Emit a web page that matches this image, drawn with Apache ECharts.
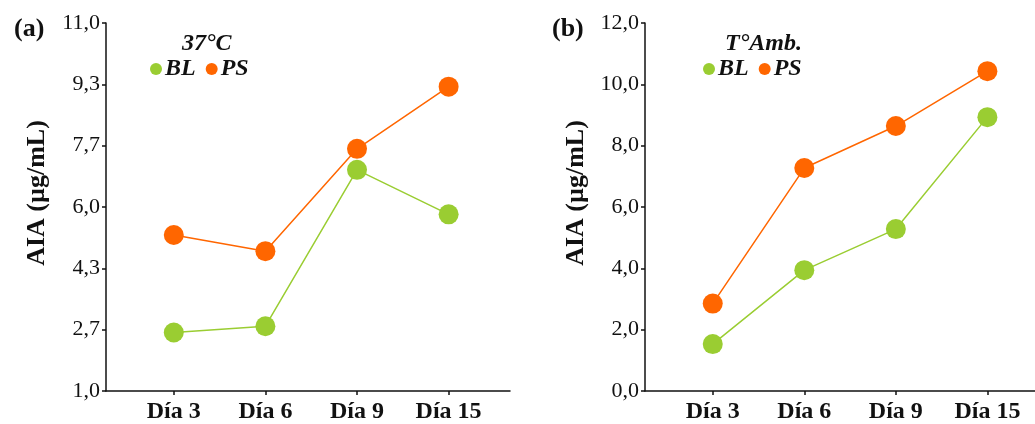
<!DOCTYPE html>
<html>
<head>
<meta charset="utf-8">
<script src="https://cdn.jsdelivr.net/npm/echarts@6/dist/echarts.min.js"></script>
<style>
  html, body { margin: 0; padding: 0; background: #fff; }
  #main { width: 1035px; height: 424px; }
</style>
</head>
<body>
<div id="main"></div>
<script>
// datos
var dias = ['Día 3', 'Día 6', 'Día 9', 'Día 15'];
var bl37 = [2.59, 2.76, 7.01, 5.80];
var ps37 = [5.24, 4.80, 7.58, 9.27];
var blAmb = [1.53, 3.94, 5.28, 8.93];
var psAmb = [2.85, 7.27, 8.64, 10.43];
var ticks37 = ['1,0', '2,7', '4,3', '6,0', '7,7', '9,3', '11,0'];

var verde = '#9acd32';
var naranja = '#ff6600';
var serif = 'Liberation Serif';

var myChart = echarts.init(document.getElementById('main'));

function pares(arr) {
  return arr.map(function (v, i) { return [i, v]; });
}
var paso37 = 10 / (ticks37.length - 1);
var valores37 = ticks37.map(function (t, i) { return 1 + i * paso37; });

function ejeX(grid, max) {
  return {
    type: 'value', gridIndex: grid, min: -0.74, max: max,
    splitLine: { show: false },
    axisLine: { show: true, onZero: false, lineStyle: { color: '#111', width: 1.5 } },
    axisTick: { show: true, length: 4, customValues: [0, 1, 2, 3], lineStyle: { color: '#111', width: 1.5 } },
    axisLabel: {
      customValues: [0, 1, 2, 3], margin: 9,
      fontFamily: serif, fontWeight: 'bold', fontSize: 24, color: '#111',
      formatter: function (v) { return dias[Math.round(v)]; }
    }
  };
}

function ejeY(grid, extra) {
  var eje = {
    type: 'value', gridIndex: grid,
    name: 'AIA (µg/mL)', nameLocation: 'middle', nameGap: 56,
    nameTextStyle: { fontFamily: serif, fontWeight: 'bold', fontSize: 26, color: '#111', padding: [0, 0, 0, 28] },
    splitLine: { show: false },
    axisLine: { show: true, onZero: false, lineStyle: { color: '#111', width: 1.5 } },
    axisTick: { show: true, length: 4, lineStyle: { color: '#111', width: 1.5 } },
    axisLabel: { margin: 6, fontFamily: serif, fontSize: 22, color: '#111' }
  };
  return Object.assign(eje, extra);
}

function serie(nombre, datos, color, idx) {
  return {
    name: nombre, type: 'line', xAxisIndex: idx, yAxisIndex: idx,
    data: pares(datos), symbol: 'circle', symbolSize: 20,
    itemStyle: { color: color },
    lineStyle: { color: color, width: 1.5 },
    emphasis: { disabled: true }
  };
}

var leyendaTexto = { fontFamily: serif, fontWeight: 'bold', fontStyle: 'italic', fontSize: 24, color: '#111' };

option = {
  animation: false,
  title: [
    { text: '(a)', left: 9, top: 11, textStyle: { fontFamily: serif, fontWeight: 'bold', fontSize: 26, color: '#111' } },
    { text: '(b)', left: 547, top: 11, textStyle: { fontFamily: serif, fontWeight: 'bold', fontSize: 26, color: '#111' } },
    { text: '37°C', left: 177, top: 27, textStyle: leyendaTexto },
    { text: 'T°Amb.', left: 720, top: 27, textStyle: leyendaTexto }
  ],
  legend: [
    { data: ['BL', 'PS'], left: 145, top: 52, icon: 'circle', itemWidth: 12, itemHeight: 12, itemGap: 10,
      textStyle: Object.assign({ padding: [0, 0, 0, -2] }, leyendaTexto), selectedMode: false },
    { data: ['BL ', 'PS '], left: 698, top: 52, icon: 'circle', itemWidth: 12, itemHeight: 12, itemGap: 10,
      textStyle: Object.assign({ padding: [0, 0, 0, -2] }, leyendaTexto), selectedMode: false,
      formatter: function (n) { return n.trim(); } }
  ],
  grid: [
    { left: 106, top: 23, width: 404, height: 368 },
    { left: 645, top: 23, width: 390, height: 368 }
  ],
  xAxis: [ejeX(0, 3.67), ejeX(1, 3.52)],
  yAxis: [
    ejeY(0, { min: 1, max: 11 }),
    ejeY(1, { min: 0, max: 12, interval: 2 })
  ],
  series: [
    serie('BL', bl37, verde, 0),
    serie('PS', ps37, naranja, 0),
    serie('BL ', blAmb, verde, 1),
    serie('PS ', psAmb, naranja, 1)
  ]
};

option.yAxis[0].axisTick.customValues = valores37;
option.yAxis[0].axisLabel.customValues = valores37;
option.yAxis[0].axisLabel.formatter = function (v) {
  return ticks37[Math.round((v - 1) / paso37)];
};
option.yAxis[1].axisLabel.formatter = function (v) {
  return v.toFixed(1).replace('.', ',');
};

myChart.setOption(option);
</script>
</body>
</html>
